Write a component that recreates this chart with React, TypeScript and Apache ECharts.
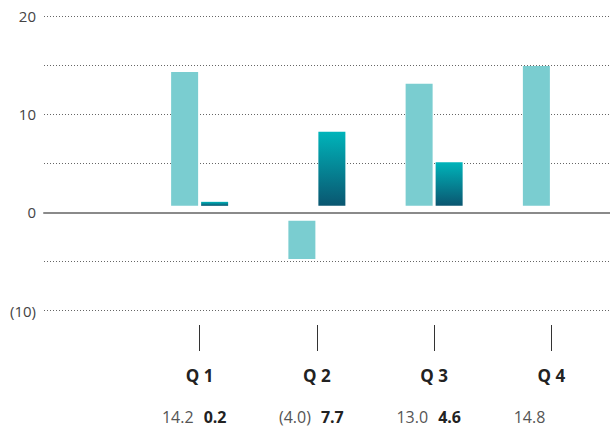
import React, { useEffect, useRef } from "react";
import * as echarts from "echarts";

// Quarterly figures: light = first measure, dark = second measure
const quarters = ["Q 1", "Q 2", "Q 3", "Q 4"];
const lightValues: (number | null)[] = [14.2, -4.0, 13.0, 14.8];
const darkValues: (number | null)[] = [0.2, 7.7, 4.6, null];
const yTicks = [-10, 0, 10, 20];

const FONT = "'Open Sans', 'Noto Sans', sans-serif";
const LIGHT = "#7acdd0";
const DARK_TOP = "#00b4ba";
const DARK_BOTTOM = "#0a5670";

const BAR_W = 27;
const BAR_GAP = 3;
const VALUE_ROW_Y = 417;

const fmt = (v: number) => (v < 0 ? `(${Math.abs(v).toFixed(1)})` : v.toFixed(1));

function makeRenderer(side: "light" | "dark") {
  return (params: any, api: any) => {
    const idx = api.value(0);
    const v = api.value(1);
    if (v == null || isNaN(v)) return null;
    const [cx, vy] = api.coord([idx, v]);
    const [, zy] = api.coord([idx, 0]);
    const x0 = side === "light" ? cx - BAR_GAP / 2 - BAR_W : cx + BAR_GAP / 2;
    let top: number;
    let bottom: number;
    if (v >= 0) {
      // positive bars float slightly above the zero line
      bottom = zy - 6.5;
      top = vy - (side === "light" ? 1 : 5);
      if (bottom - top < 4) top = bottom - 4;
    } else {
      top = zy + 8.5;
      bottom = vy + 7.5;
    }
    const fill =
      side === "light"
        ? LIGHT
        : new echarts.graphic.LinearGradient(0, 0, 0, 1, [
            { offset: 0, color: DARK_TOP },
            { offset: 1, color: DARK_BOTTOM },
          ]);
    return {
      type: "group",
      children: [
        {
          type: "rect",
          shape: { x: x0, y: top, width: BAR_W, height: bottom - top },
          style: { fill },
        },
        {
          type: "text",
          x: side === "light" ? cx - 6 : cx + 4,
          y: VALUE_ROW_Y,
          style: {
            text: fmt(v),
            fontFamily: FONT,
            fontSize: 16,
            fontWeight: side === "light" ? "normal" : "bold",
            fill: side === "light" ? "#555555" : "#222222",
            align: side === "light" ? "right" : "left",
            verticalAlign: "middle",
          },
        },
      ],
    };
  };
}

export default function App() {
  const ref = useRef<HTMLDivElement>(null);

  useEffect(() => {
    if (!ref.current) return;
    const chart = echarts.init(ref.current, null, { renderer: "svg" });
    const gridTop = 16;
    const gridBottom = 120.5;
    chart.setOption({
      animation: false,
      grid: [
        { left: 44, right: 0, top: gridTop, bottom: gridBottom },
        { left: 141, right: 0, top: gridTop, bottom: gridBottom },
      ],
      xAxis: [
        {
          gridIndex: 0,
          type: "value",
          min: 0,
          max: 1,
          axisLine: { show: true, onZero: true, lineStyle: { color: "#8a8a8a", width: 2 } },
          axisTick: { show: false },
          axisLabel: { show: false },
          splitLine: { show: false },
        },
        {
          gridIndex: 1,
          type: "category",
          data: quarters,
          position: "bottom",
          offset: 14.5,
          axisLine: { show: false, onZero: false },
          axisTick: {
            show: true,
            alignWithLabel: true,
            length: 26,
            lineStyle: { color: "#333333", width: 1 },
          },
          axisLabel: {
            margin: 42,
            fontFamily: FONT,
            fontSize: 17,
            fontWeight: "bold",
            color: "#222222",
          },
        },
      ],
      yAxis: [
        {
          gridIndex: 0,
          type: "value",
          min: -10,
          max: 20,
          interval: 5,
          axisLine: { show: false },
          axisTick: { show: false },
          axisLabel: {
            margin: 8,
            fontFamily: FONT,
            fontSize: 15,
            color: "#444444",
            formatter: (v: number) =>
              yTicks.includes(v) ? (v < 0 ? `(${Math.abs(v)})` : `${v}`) : "",
          },
          splitLine: {
            show: true,
            lineStyle: { color: "#666666", width: 1, type: [1, 2] },
          },
        },
        {
          gridIndex: 1,
          type: "value",
          min: -10,
          max: 20,
          interval: 5,
          show: false,
          splitLine: { show: false },
        },
      ],
      series: [
        {
          type: "custom",
          name: "light",
          xAxisIndex: 1,
          yAxisIndex: 1,
          clip: false,
          renderItem: makeRenderer("light"),
          data: lightValues.map((v, i) => [i, v]),
        },
        {
          type: "custom",
          name: "dark",
          xAxisIndex: 1,
          yAxisIndex: 1,
          clip: false,
          renderItem: makeRenderer("dark"),
          data: darkValues.map((v, i) => [i, v]).filter((d) => d[1] != null),
        },
      ],
    });
    return () => chart.dispose();
  }, []);

  return <div ref={ref} style={{ width: 610, height: 431, position: "absolute", left: 0, top: 0 }} />;
}
